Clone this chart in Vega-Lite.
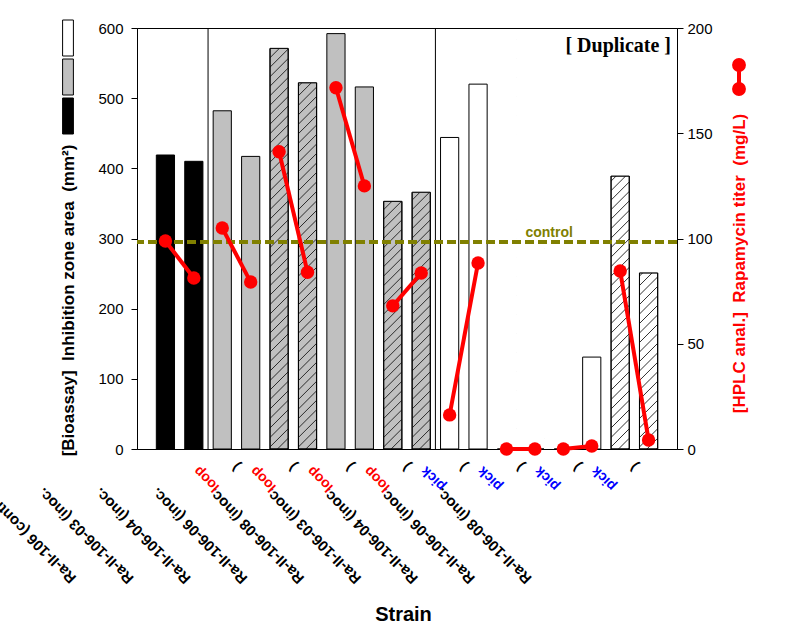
{
  "$schema": "https://vega.github.io/schema/vega-lite/v6.json",
  "width": 540,
  "height": 421,
  "autosize": {"type": "none"},
  "padding": {"left": 137, "top": 28, "right": 110, "bottom": 190},
  "background": "white",
  "config": {
    "font": "Liberation Sans",
    "view": {"stroke": "black", "strokeWidth": 1},
    "axis": {"labelFont": "Liberation Sans", "titleFont": "Liberation Sans", "labelColor": "black", "tickColor": "black", "domainColor": "black", "grid": false}
  },
  "title": {"text": "[ Duplicate ]", "anchor": "end", "orient": "top", "frame": "group", "font": "Liberation Serif", "fontSize": 20, "fontWeight": "bold", "color": "black", "baseline": "alphabetic", "offset": 0, "dy": 52, "dx": -6},
  "data": {"values": [
    {"strain": "Ra-II-106 (control)", "inoc": "control", "rep": 1, "sample": "Ra-II-106 (control) #1", "area": 419, "titer": 98.8},
    {"strain": "Ra-II-106 (control)", "inoc": "control", "rep": 2, "sample": "Ra-II-106 (control) #2", "area": 410, "titer": 81.2},
    {"strain": "Ra-II-106-03 (inoc. loop)", "inoc": "loop", "rep": 1, "sample": "Ra-II-106-03 (inoc. loop) #1", "area": 482, "titer": 105},
    {"strain": "Ra-II-106-03 (inoc. loop)", "inoc": "loop", "rep": 2, "sample": "Ra-II-106-03 (inoc. loop) #2", "area": 417, "titer": 79.3},
    {"strain": "Ra-II-106-04 (inoc. loop)", "inoc": "loop", "rep": 1, "sample": "Ra-II-106-04 (inoc. loop) #1", "area": 571, "titer": 141.2},
    {"strain": "Ra-II-106-04 (inoc. loop)", "inoc": "loop", "rep": 2, "sample": "Ra-II-106-04 (inoc. loop) #2", "area": 522, "titer": 84},
    {"strain": "Ra-II-106-06 (inoc. loop)", "inoc": "loop", "rep": 1, "sample": "Ra-II-106-06 (inoc. loop) #1", "area": 592, "titer": 171.6},
    {"strain": "Ra-II-106-06 (inoc. loop)", "inoc": "loop", "rep": 2, "sample": "Ra-II-106-06 (inoc. loop) #2", "area": 516, "titer": 125},
    {"strain": "Ra-II-106-08 (inoc. loop)", "inoc": "loop", "rep": 1, "sample": "Ra-II-106-08 (inoc. loop) #1", "area": 353, "titer": 68},
    {"strain": "Ra-II-106-08 (inoc. loop)", "inoc": "loop", "rep": 2, "sample": "Ra-II-106-08 (inoc. loop) #2", "area": 366, "titer": 83.6},
    {"strain": "Ra-II-106-03 (inoc. pick)", "inoc": "pick", "rep": 1, "sample": "Ra-II-106-03 (inoc. pick) #1", "area": 444, "titer": 16.2},
    {"strain": "Ra-II-106-03 (inoc. pick)", "inoc": "pick", "rep": 2, "sample": "Ra-II-106-03 (inoc. pick) #2", "area": 520, "titer": 88.4},
    {"strain": "Ra-II-106-04 (inoc. pick)", "inoc": "pick", "rep": 1, "sample": "Ra-II-106-04 (inoc. pick) #1", "area": 0, "titer": 0},
    {"strain": "Ra-II-106-04 (inoc. pick)", "inoc": "pick", "rep": 2, "sample": "Ra-II-106-04 (inoc. pick) #2", "area": 0, "titer": 0},
    {"strain": "Ra-II-106-06 (inoc. pick)", "inoc": "pick", "rep": 1, "sample": "Ra-II-106-06 (inoc. pick) #1", "area": 0, "titer": 0},
    {"strain": "Ra-II-106-06 (inoc. pick)", "inoc": "pick", "rep": 2, "sample": "Ra-II-106-06 (inoc. pick) #2", "area": 131, "titer": 1.4},
    {"strain": "Ra-II-106-08 (inoc. pick)", "inoc": "pick", "rep": 1, "sample": "Ra-II-106-08 (inoc. pick) #1", "area": 389, "titer": 84.6},
    {"strain": "Ra-II-106-08 (inoc. pick)", "inoc": "pick", "rep": 2, "sample": "Ra-II-106-08 (inoc. pick) #2", "area": 251, "titer": 4.3}
  ]},
  "resolve": {"scale": {"y": "independent"}, "axis": {"x": "independent", "y": "independent"}},
  "layer": [
    {
      "mark": {"type": "bar", "width": {"band": 0.64}, "stroke": "black", "strokeWidth": 1},
      "encoding": {
        "x": {"field": "sample", "type": "nominal", "sort": null,
          "scale": {"paddingInner": 0, "paddingOuter": 0.5},
          "axis": {"orient": "bottom", "title": "Strain", "titleFontSize": 20, "titleFontWeight": "bold", "titleColor": "black", "titleX": 266, "titleY": 171, "titleBaseline": "alphabetic", "titleAlign": "center",
            "labelExpr": "indexof(datum.value, ' #1') > 0 ? (indexof(datum.value, 'control') > 0 ? slice(datum.value, 0, indexof(datum.value, ' #')) : slice(datum.value, 0, indexof(datum.value, '(inoc.') + 6)) : ''",
            "labelAngle": 225, "labelAlign": "right", "labelBaseline": "middle", "labelFontSize": 15, "labelFontWeight": "bold", "labelColor": "black",
            "labelOffset": -182, "labelPadding": 41, "ticks": false, "tickSize": 0, "domain": false, "labelOverlap": false, "labelBound": false, "labelFlush": false, "labelLimit": 400}},
        "y": {"field": "area", "type": "quantitative", "stack": null, "scale": {"domain": [0, 600], "nice": false},
          "axis": {"orient": "left", "values": [0, 100, 200, 300, 400, 500, 600], "tickSize": 6, "labelPadding": 8, "labelFontSize": 15, "domain": true,
            "title": "[Bioassay]\u00a0\u00a0Inhibition zone area\u00a0\u00a0(mm²)", "titleFontSize": 17, "titleFontWeight": "bold", "titleColor": "black", "titleAngle": 270, "titleX": -69, "titleY": 272, "titleBaseline": "middle", "titleAlign": "center"}},
        "fill": {"field": "inoc", "type": "nominal",
          "scale": {"domain": ["pick", "loop", "control"], "range": ["#ffffff", "#c0c0c0", "#000000"]},
          "legend": {"orient": "none", "legendX": -87.5, "legendY": -8.5, "title": null, "symbolType": "M-0.3,-1H0.3V1H-0.3Z", "symbolSize": 1296, "symbolStrokeColor": "black", "symbolStrokeWidth": 1, "symbolOpacity": 1, "labelExpr": "''", "rowPadding": -4.5, "padding": 0, "labelFontSize": 10}}
      }
    },
    {
      "transform": [{"filter": "indexof(datum.strain, '-04 ') >= 0 || indexof(datum.strain, '-08 ') >= 0"}],
      "mark": {"type": "point", "clip": true, "filled": false, "stroke": "#1a1a1a", "strokeWidth": 0.9, "opacity": 1, "size": 177241,
        "shape": "M-0.0428,1.08L0.0428,0.9945M-0.0428,1.0349L0.0428,0.9494M-0.0428,0.9898L0.0428,0.9043M-0.0428,0.9447L0.0428,0.8592M-0.0428,0.8996L0.0428,0.8141M-0.0428,0.8545L0.0428,0.769M-0.0428,0.8094L0.0428,0.7239M-0.0428,0.7643L0.0428,0.6788M-0.0428,0.7192L0.0428,0.6337M-0.0428,0.6741L0.0428,0.5886M-0.0428,0.629L0.0428,0.5435M-0.0428,0.5839L0.0428,0.4984M-0.0428,0.5388L0.0428,0.4533M-0.0428,0.4937L0.0428,0.4082M-0.0428,0.4486L0.0428,0.3631M-0.0428,0.4035L0.0428,0.318M-0.0428,0.3584L0.0428,0.2729M-0.0428,0.3133L0.0428,0.2278M-0.0428,0.2682L0.0428,0.1827M-0.0428,0.2231L0.0428,0.1376M-0.0428,0.178L0.0428,0.0925M-0.0428,0.1329L0.0428,0.0474M-0.0428,0.0878L0.0428,0.0023M-0.0428,0.0427L0.0428,-0.0428M-0.0428,-0.0024L0.0428,-0.0879M-0.0428,-0.0475L0.0428,-0.133M-0.0428,-0.0926L0.0428,-0.1781M-0.0428,-0.1377L0.0428,-0.2232M-0.0428,-0.1828L0.0428,-0.2683M-0.0428,-0.2279L0.0428,-0.3134M-0.0428,-0.273L0.0428,-0.3585M-0.0428,-0.3181L0.0428,-0.4036M-0.0428,-0.3632L0.0428,-0.4487M-0.0428,-0.4083L0.0428,-0.4938M-0.0428,-0.4534L0.0428,-0.5389M-0.0428,-0.4985L0.0428,-0.584M-0.0428,-0.5436L0.0428,-0.6291M-0.0428,-0.5887L0.0428,-0.6742M-0.0428,-0.6338L0.0428,-0.7193M-0.0428,-0.6789L0.0428,-0.7644M-0.0428,-0.724L0.0428,-0.8095M-0.0428,-0.7691L0.0428,-0.8546M-0.0428,-0.8142L0.0428,-0.8997M-0.0428,-0.8593L0.0428,-0.9448"},
      "encoding": {
        "x": {"field": "sample", "type": "nominal", "sort": null, "axis": null},
        "y": {"datum": 300, "type": "quantitative", "scale": {"domain": [0, 600], "nice": false}, "axis": null}
      }
    },
    {
      "transform": [{"filter": "indexof(datum.strain, '-04 ') >= 0 || indexof(datum.strain, '-08 ') >= 0"}],
      "mark": {"type": "bar", "width": {"band": 0.7}, "fill": "white", "strokeWidth": 0},
      "encoding": {
        "x": {"field": "sample", "type": "nominal", "sort": null,
          "axis": {"orient": "bottom", "title": null,
            "labelExpr": "indexof(datum.value, ' #1') > 0 ? (indexof(datum.value, 'loop') > 0 ? 'loop' : (indexof(datum.value, 'pick') > 0 ? 'pick' : '')) : ''",
            "labelColor": {"condition": {"test": "indexof(datum.value, 'pick') > 0", "value": "#0000ff"}, "value": "#ff0000"},
            "labelAngle": 225, "labelAlign": "right", "labelBaseline": "middle", "labelFontSize": 14, "labelFontWeight": "bold",
            "labelOffset": -26, "labelPadding": 19, "ticks": false, "tickSize": 0, "domain": false, "labelOverlap": false, "labelBound": false, "labelFlush": false}},
        "y": {"field": "area", "type": "quantitative", "stack": null, "scale": {"domain": [0, 600], "nice": false}, "axis": null},
        "y2": {"datum": 595}
      }
    },
    {
      "transform": [{"filter": "indexof(datum.strain, '-04 ') >= 0 || indexof(datum.strain, '-08 ') >= 0"}],
      "mark": {"type": "bar", "width": {"band": 0.64}, "fillOpacity": 0, "stroke": "black", "strokeWidth": 1},
      "encoding": {
        "x": {"field": "sample", "type": "nominal", "sort": null,
          "axis": {"orient": "bottom", "title": null,
            "labelExpr": "indexof(datum.value, ' #1') > 0 && indexof(datum.value, 'inoc') > 0 ? ')' : ''",
            "labelAngle": 225, "labelAlign": "center", "labelBaseline": "middle", "labelFontSize": 14, "labelFontWeight": "bold", "labelColor": "black",
            "labelOffset": 14, "labelPadding": 17, "ticks": false, "tickSize": 0, "domain": false, "labelOverlap": false, "labelBound": false, "labelFlush": false}},
        "y": {"field": "area", "type": "quantitative", "stack": null, "scale": {"domain": [0, 600], "nice": false}, "axis": null}
      }
    },
    {
      "transform": [{"filter": "datum.sample == 'Ra-II-106-03 (inoc. loop) #1' || datum.sample == 'Ra-II-106-03 (inoc. pick) #1'"}],
      "mark": {"type": "rule", "color": "black", "strokeWidth": 1},
      "encoding": {
        "x": {"field": "sample", "type": "nominal", "sort": null, "bandPosition": 0, "axis": null}
      }
    },
    {
      "mark": {"type": "rule", "color": "#808000", "strokeWidth": 3, "strokeDash": [9, 4]},
      "encoding": {
        "y": {"datum": 295, "type": "quantitative", "scale": {"domain": [0, 600], "nice": false}, "axis": null}
      }
    },
    {
      "transform": [{"filter": "datum.sample == 'Ra-II-106-06 (inoc. pick) #1'"}],
      "mark": {"type": "text", "text": "control", "font": "Liberation Sans", "fontSize": 14, "fontWeight": "bold", "color": "#808000", "align": "center", "baseline": "alphabetic", "dy": -5},
      "encoding": {
        "x": {"field": "sample", "type": "nominal", "sort": null, "bandPosition": 0, "axis": null},
        "y": {"datum": 295, "type": "quantitative", "scale": {"domain": [0, 600], "nice": false}, "axis": null}
      }
    },
    {
      "mark": {"type": "line", "color": "#ff0000", "strokeWidth": 4},
      "encoding": {
        "x": {"field": "sample", "type": "nominal", "sort": null, "axis": null},
        "y": {"field": "titer", "type": "quantitative", "scale": {"domain": [0, 200], "nice": false},
          "axis": {"orient": "right", "values": [0, 50, 100, 150, 200], "tickSize": 6, "labelPadding": 4, "labelFontSize": 15, "domain": true,
            "title": "[HPLC anal.]\u00a0\u00a0Rapamycin titer\u00a0\u00a0(mg/L)", "titleFontSize": 17, "titleFontWeight": "bold", "titleColor": "#ff0000", "titleAngle": 270, "titleX": 62, "titleY": 235, "titleBaseline": "middle", "titleAlign": "center"}},
        "detail": {"field": "strain"}
      }
    },
    {
      "mark": {"type": "point", "shape": "circle", "filled": true, "size": 180, "opacity": 1},
      "encoding": {
        "x": {"field": "sample", "type": "nominal", "sort": null, "axis": null},
        "y": {"field": "titer", "type": "quantitative", "scale": {"domain": [0, 200], "nice": false}, "axis": null},
        "color": {"datum": "HPLC titer", "scale": {"range": ["#ff0000"]},
          "legend": {"orient": "none", "legendX": 581, "legendY": 28, "title": null, "symbolType": "M0,-0.63L0,0.63M-0.26,-0.63a0.26,0.26 0 1,0 0.52,0a0.26,0.26 0 1,0 -0.52,0M-0.26,0.63a0.26,0.26 0 1,0 0.52,0a0.26,0.26 0 1,0 -0.52,0", "symbolSize": 1444, "symbolFillColor": "#ff0000", "symbolStrokeColor": "#ff0000", "symbolStrokeWidth": 4, "symbolOpacity": 1, "labelExpr": "''", "padding": 0, "labelFontSize": 10}}
      }
    }
  ]
}
